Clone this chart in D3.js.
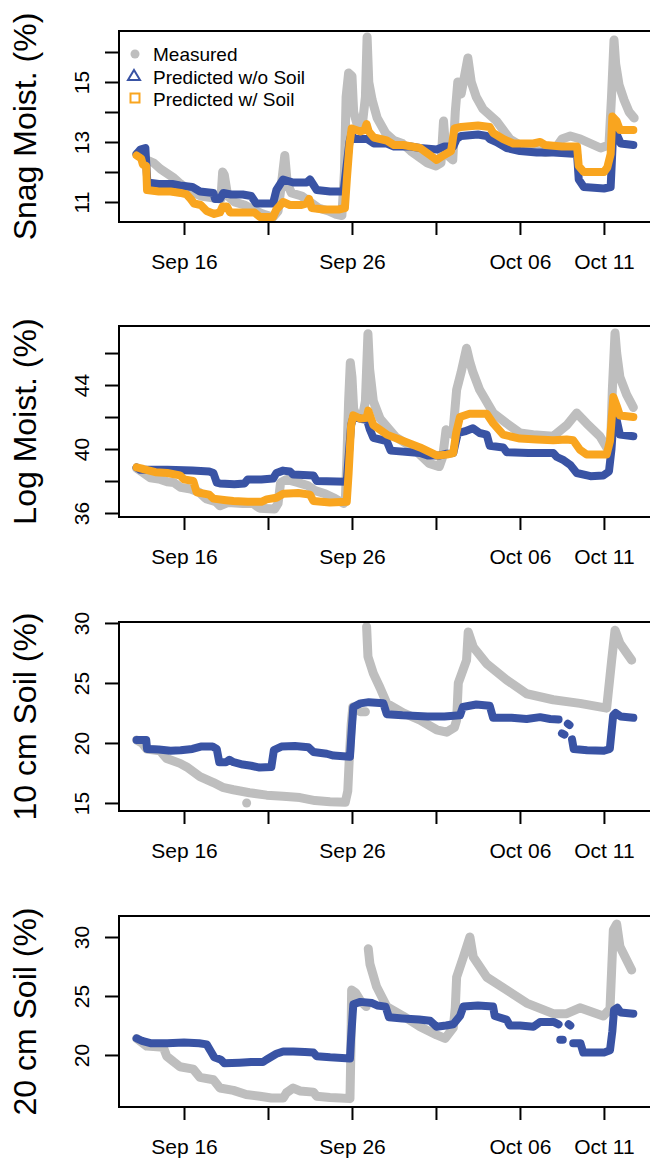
<!DOCTYPE html>
<html>
<head>
<meta charset="utf-8">
<script src="https://cdn.jsdelivr.net/npm/d3@7"></script>
<style>
    body { margin: 0; background: #fff; }
    svg { display: block; font-family: "Liberation Sans", Arial, Helvetica, sans-serif; }
</style>
</head>
<body>
<div id="chart"></div>
<script>
// x values are day numbers counted from Sep 1 (so Oct 1 = 31, Oct 11 = 41)
const xTickDays = [16, 21, 26, 31, 36, 41];
const xTickLabels = ["Sep 16", "", "Sep 26", "", "Oct 06", "Oct 11"];
const legendLabels = ["Measured", "Predicted w/o Soil", "Predicted w/ Soil"];

// ---- Snag moisture
const snagMeas = [[13.18,12.6],[13.5,12.55],[13.8,12.4],[14.2,12.3],[14.6,12.1],[15.0,11.95],[15.4,11.8],[15.8,11.6],[16.2,11.45],[16.6,11.3],[17.0,11.2],[17.6,11.15],[18.2,11.1],[18.3,12.0],[18.4,11.9],[18.6,11.2],[19.0,11.0],[19.6,10.9],[20.1,10.75],[20.7,10.6],[21.3,10.5],[21.6,10.7],[21.8,11.6],[22.0,12.55],[22.15,11.6],[22.4,11.3],[23.0,11.2],[23.5,11.0],[24.0,10.8],[24.6,10.7],[25.0,10.6],[25.4,10.55],[25.55,12.0],[25.65,14.5],[25.8,15.3],[26.0,15.2],[26.1,14.0],[26.3,13.6],[26.6,13.5],[26.8,14.5],[26.9,16.5],[27.0,15.0],[27.2,14.4],[27.5,13.8],[28.0,13.3],[28.5,13.05],[29.0,12.95],[29.5,12.7],[30.0,12.5],[30.5,12.3],[31.0,12.2],[31.3,12.3],[31.45,13.7],[31.6,12.6],[32.0,12.4],[32.15,14.0],[32.3,15.0],[32.5,14.6],[32.7,15.2],[32.9,15.8],[33.1,15.0],[33.4,14.5],[33.8,14.1],[34.2,13.9],[34.6,13.7],[35.0,13.4],[35.4,13.1],[36.0,12.9],[36.8,12.75],[37.5,12.65],[38.0,12.7],[38.5,13.1],[39.0,13.2],[39.6,13.1],[40.2,12.95],[40.8,12.8],[41.3,12.9],[41.45,14.5],[41.6,16.4],[41.7,15.6],[41.9,14.9],[42.2,14.4],[42.5,14.0],[42.8,13.8]];
const snagNoSoil = [[13.18,12.6],[13.4,12.75],[13.7,12.8],[13.78,12.0],[13.82,11.65],[14.5,11.6],[15.3,11.6],[15.76,11.55],[16.5,11.5],[16.95,11.35],[17.75,11.3],[17.85,11.1],[18.14,11.1],[18.34,11.3],[18.8,11.25],[19.5,11.25],[20.0,11.2],[20.3,10.95],[21.3,10.95],[21.5,11.4],[21.9,11.75],[22.5,11.65],[23.3,11.65],[23.5,11.75],[23.9,11.4],[24.7,11.35],[25.5,11.35],[25.7,12.3],[25.85,13.0],[25.98,13.3],[26.1,13.1],[26.9,13.1],[27.3,12.95],[28.07,12.95],[28.5,12.85],[29.5,12.85],[30.05,12.8],[31.04,12.75],[31.5,12.85],[32.03,12.85],[32.23,13.1],[32.5,13.2],[33.5,13.25],[34.02,13.2],[34.2,13.1],[34.6,13.0],[35.21,12.8],[36.0,12.7],[37.0,12.65],[38.0,12.65],[39.4,12.6],[39.5,11.75],[39.8,11.5],[41.0,11.45],[41.4,11.5],[41.55,13.3],[41.8,13.2],[42.0,12.95],[42.75,12.9]];
const snagSoil = [[13.18,12.55],[13.45,12.45],[13.55,12.25],[13.75,12.2],[13.8,11.4],[14.5,11.35],[15.2,11.35],[15.8,11.3],[16.16,11.25],[16.4,11.1],[16.6,10.95],[17.0,10.9],[17.35,10.7],[17.8,10.6],[18.14,10.65],[18.3,10.85],[18.55,10.85],[18.74,10.65],[19.5,10.65],[20.2,10.65],[20.52,10.5],[21.3,10.5],[21.5,10.75],[21.9,11.0],[22.3,10.9],[23.0,10.9],[23.3,10.95],[23.45,11.1],[23.6,10.8],[24.3,10.75],[25.2,10.75],[25.58,10.8],[25.7,11.8],[25.85,12.9],[25.98,13.45],[26.5,13.35],[26.75,13.4],[26.87,13.6],[27.0,13.35],[27.3,13.15],[28.07,13.05],[28.5,12.9],[29.05,12.9],[30.05,12.8],[30.8,12.5],[31.04,12.4],[31.44,12.55],[31.9,12.7],[32.1,13.45],[32.5,13.5],[33.5,13.55],[34.2,13.5],[34.41,13.3],[35.0,13.1],[35.6,12.95],[36.8,12.95],[37.2,13.0],[37.5,12.9],[38.5,12.85],[39.4,12.85],[39.5,12.2],[39.8,12.0],[41.0,12.0],[41.2,12.15],[41.4,12.6],[41.5,13.85],[41.75,13.7],[41.95,13.4],[42.75,13.4]];

// ---- Log moisture
const logMeas = [[13.18,38.8],[13.6,38.5],[14.0,38.2],[14.6,38.1],[15.0,37.95],[15.4,37.9],[15.8,37.6],[16.4,37.5],[16.9,37.3],[17.3,36.9],[17.9,36.7],[18.14,36.45],[18.6,36.65],[19.5,36.6],[20.1,36.6],[20.5,36.3],[21.4,36.25],[21.6,36.6],[21.75,37.9],[22.1,38.1],[22.8,37.9],[23.4,37.7],[23.8,37.4],[24.4,37.2],[25.0,36.9],[25.5,36.6],[25.6,36.7],[25.7,39.5],[25.8,43.0],[25.9,45.4],[26.0,44.5],[26.1,42.5],[26.3,42.0],[26.6,41.9],[26.8,43.0],[26.95,47.2],[27.05,45.0],[27.27,43.0],[27.67,41.9],[28.6,40.75],[29.6,40.1],[30.6,39.1],[31.2,38.9],[31.4,39.5],[31.6,41.2],[32.0,40.9],[32.23,43.7],[32.5,44.8],[32.82,46.3],[33.0,45.5],[33.2,44.8],[33.6,43.7],[34.41,42.25],[35.21,41.6],[36.0,41.0],[36.79,40.9],[37.98,40.8],[38.8,41.5],[39.38,42.25],[39.97,41.6],[40.76,40.8],[41.16,40.1],[41.4,40.3],[41.5,43.7],[41.66,47.25],[41.76,46.0],[41.95,44.5],[42.35,43.4],[42.75,42.6]];
const logNoSoil = [[13.18,38.85],[13.4,38.7],[15.0,38.7],[16.5,38.65],[17.5,38.6],[17.75,38.5],[17.95,37.9],[18.14,37.85],[19.0,37.8],[19.6,37.85],[19.8,38.1],[20.6,38.1],[21.3,38.15],[21.5,38.5],[21.9,38.65],[22.3,38.6],[22.5,38.4],[23.7,38.35],[23.9,38.0],[25.69,37.95],[25.8,39.5],[25.95,41.5],[26.08,42.0],[26.9,41.8],[27.07,41.2],[27.27,40.7],[28.07,40.5],[28.3,39.9],[30.05,39.75],[30.5,39.6],[31.24,39.6],[31.6,39.7],[32.03,39.75],[32.3,41.0],[32.7,41.1],[33.2,41.3],[33.6,41.0],[34.02,40.9],[34.2,40.2],[35.0,40.1],[35.21,39.8],[36.5,39.75],[37.98,39.75],[38.2,39.5],[38.6,39.3],[39.0,39.0],[39.38,38.5],[40.2,38.3],[40.96,38.35],[41.3,38.6],[41.45,40.0],[41.56,41.7],[41.76,41.8],[41.95,40.9],[42.75,40.8]];
const logSoil = [[13.18,38.85],[13.58,38.75],[14.3,38.55],[15.0,38.5],[15.76,38.35],[16.0,38.1],[16.55,38.0],[16.75,37.3],[17.5,37.15],[17.75,36.9],[18.5,36.8],[18.94,36.75],[19.8,36.7],[20.6,36.7],[20.92,36.85],[21.5,36.95],[21.91,37.2],[22.8,37.25],[23.5,37.15],[23.7,36.75],[24.69,36.65],[25.69,36.7],[25.8,38.5],[25.95,41.5],[26.08,42.1],[26.5,41.9],[26.87,41.95],[26.97,42.4],[27.27,41.5],[28.07,40.9],[29.05,40.5],[30.05,40.1],[31.04,39.6],[31.64,39.65],[32.03,39.75],[32.2,41.0],[32.43,42.0],[33.0,42.2],[34.02,42.2],[34.41,41.6],[35.0,40.9],[36.0,40.65],[37.0,40.6],[37.98,40.55],[38.78,40.6],[39.17,40.55],[39.57,39.95],[39.97,39.65],[41.16,39.65],[41.36,40.5],[41.56,43.25],[41.76,42.7],[41.95,42.1],[42.75,42.0]];

// ---- 10 cm soil (null = gap in the record)
const soil10Meas = [[13.18,20.25],[13.5,20.0],[13.78,19.5],[14.57,19.35],[14.97,18.7],[15.76,18.3],[16.16,18.0],[16.95,17.2],[17.75,16.7],[18.3,16.3],[18.94,16.1],[19.9,15.85],[20.92,15.65],[21.9,15.55],[22.9,15.45],[23.8,15.2],[24.69,15.1],[25.6,15.05],[25.75,16.0],[25.85,19.0],[25.95,21.5],[26.05,23.0],[26.5,22.6],[26.8,22.6],[26.84,null],[26.87,29.7],[26.95,27.2],[27.27,25.8],[27.67,24.6],[28.07,23.3],[29.05,22.5],[30.05,21.9],[31.04,21.1],[31.64,20.9],[32.1,21.3],[32.23,21.9],[32.33,25.0],[32.82,26.9],[32.92,29.25],[33.22,28.0],[34.02,26.6],[35.21,25.25],[36.4,24.1],[37.98,23.6],[39.57,23.3],[41.16,22.9],[41.46,26.9],[41.66,29.4],[41.95,28.3],[42.65,26.9]];
const soil10MeasStray = [[19.73,15.0]];
const soil10NoSoil = [[13.18,20.25],[13.75,20.25],[13.8,19.5],[14.5,19.45],[15.2,19.35],[15.8,19.4],[16.5,19.5],[17.0,19.7],[17.7,19.7],[17.95,19.5],[18.1,18.4],[18.5,18.4],[18.7,18.6],[18.95,18.4],[19.5,18.2],[20.0,18.1],[20.5,17.95],[21.2,18.0],[21.35,19.4],[21.8,19.7],[22.6,19.75],[23.4,19.65],[23.7,19.25],[24.5,19.1],[24.9,18.95],[25.88,18.85],[25.98,21.0],[26.08,23.0],[26.5,23.3],[27.0,23.4],[27.87,23.3],[28.07,22.4],[29.0,22.3],[30.5,22.2],[31.5,22.2],[32.43,22.3],[32.6,23.0],[33.4,23.2],[34.2,23.1],[34.4,22.1],[35.5,22.1],[36.4,22.0],[37.2,22.15],[37.8,22.0],[38.3,21.95],[38.4,null],[38.5,20.8],[38.65,20.7],[38.7,null],[38.85,21.6],[38.95,21.5],[39.0,null],[39.1,20.3],[39.2,19.5],[40.0,19.4],[41.0,19.35],[41.35,19.5],[41.45,20.9],[41.55,22.3],[41.7,22.5],[42.0,22.2],[42.75,22.1]];

// ---- 20 cm soil
const soil20Meas = [[13.18,21.4],[13.78,20.75],[14.77,20.65],[14.97,19.9],[15.4,19.4],[15.76,19.0],[16.55,18.8],[16.95,18.1],[17.75,17.9],[18.14,17.2],[18.94,17.0],[19.7,16.65],[20.52,16.5],[21.2,16.35],[21.91,16.35],[22.1,16.8],[22.5,17.2],[22.9,16.95],[23.7,16.85],[23.9,16.5],[24.69,16.4],[25.3,16.35],[25.88,16.3],[25.93,20.0],[25.98,25.5],[26.2,25.3],[26.5,24.6],[26.85,24.1],[26.9,null],[26.97,29.0],[27.07,27.7],[27.46,25.8],[28.07,24.1],[29.05,23.3],[30.05,22.4],[31.04,21.7],[31.54,21.4],[32.03,22.3],[32.15,24.0],[32.23,26.6],[32.63,28.3],[33.02,30.0],[33.22,28.3],[34.02,26.6],[35.21,25.5],[36.4,24.4],[37.98,23.5],[38.78,23.5],[39.57,24.0],[40.96,23.3],[41.36,23.9],[41.56,30.6],[41.76,31.1],[41.95,29.2],[42.65,27.2]];
const soil20NoSoil = [[13.18,21.4],[13.5,21.2],[14.0,21.0],[15.0,21.0],[16.0,21.05],[16.9,21.0],[17.35,20.9],[17.6,20.3],[17.8,19.8],[18.2,19.6],[18.4,19.3],[19.3,19.35],[20.0,19.4],[20.7,19.4],[20.9,19.6],[21.5,20.1],[21.9,20.3],[22.5,20.3],[23.2,20.25],[23.7,20.2],[23.9,19.9],[24.7,19.8],[25.88,19.7],[25.95,21.5],[26.08,24.3],[26.5,24.5],[27.2,24.4],[27.5,24.2],[28.0,24.1],[28.2,23.2],[29.0,23.1],[30.0,23.0],[30.65,22.9],[31.04,22.4],[31.6,22.5],[32.03,22.6],[32.43,23.3],[32.63,24.1],[33.5,24.2],[34.4,24.1],[34.5,23.3],[35.2,23.0],[35.4,22.5],[36.0,22.5],[36.8,22.4],[37.2,22.8],[38.0,22.8],[38.3,22.6],[38.35,null],[38.4,21.3],[38.55,21.3],[38.6,null],[38.9,22.6],[39.0,22.5],[39.05,null],[39.17,21.0],[39.6,21.0],[39.77,20.2],[41.0,20.2],[41.36,20.4],[41.5,22.0],[41.6,23.8],[41.8,24.0],[42.0,23.6],[42.75,23.5]];

const colMeas = "#bebebe";
const colNoSoil = "#3953a4";
const colSoil = "#f9a51f";

const plotLeft = 119, plotRight = 655;
const toDate = d => new Date(Date.UTC(2017, 8, 1) + (d - 1) * 864e5);

class MoistPanel {
    constructor(_svg, _config) {
        this.svg = _svg;
        this.config = _config;
        this.initVis();
    }

    initVis() {
        let vis = this;
        let c = vis.config;

        vis.x = d3.scaleUtc()
            .domain([toDate(12.13), toDate(44.04)])
            .range([plotLeft, plotRight]);
        vis.y = d3.scaleLinear()
            .domain(c.yDomain)
            .range([c.bottom, c.top]);

        vis.g = vis.svg.append("g");
        vis.renderVis();
    }

    renderVis() {
        let vis = this;
        let c = vis.config;

        let line = d3.line()
            .defined(d => d[1] !== null)
            .x(d => vis.x(toDate(d[0])))
            .y(d => vis.y(d[1]));

        c.series.forEach(s => {
            vis.g.append("path")
                .datum(s.data)
                .attr("fill", "none")
                .attr("stroke", s.color)
                .attr("stroke-width", s.width)
                .attr("stroke-linejoin", "round")
                .attr("stroke-linecap", "round")
                .attr("d", line);
        });

        (c.stray || []).forEach(s => {
            vis.g.selectAll(null)
                .data(s.data)
                .join("circle")
                .attr("cx", d => vis.x(toDate(d[0])))
                .attr("cy", d => vis.y(d[1]))
                .attr("r", 4.5)
                .attr("fill", s.color);
        });

        // frame (right side falls off the page, like the original)
        vis.g.append("rect")
            .attr("x", plotLeft)
            .attr("y", c.top)
            .attr("width", plotRight - plotLeft)
            .attr("height", c.bottom - c.top)
            .attr("fill", "none")
            .attr("stroke", "#000")
            .attr("stroke-width", 2);

        let xAxis = vis.g.append("g")
            .attr("transform", `translate(0,${c.bottom})`)
            .call(d3.axisBottom(vis.x)
                .tickValues(xTickDays.map(toDate))
                .tickSize(13)
                .tickFormat((d, i) => xTickLabels[i]));
        xAxis.select(".domain").remove();
        xAxis.attr("font-family", null).attr("font-size", 21);
        xAxis.selectAll("line").attr("stroke-width", 2);
        xAxis.selectAll("text").attr("y", 47).attr("dy", null).attr("fill", "#000");

        let yAxis = vis.g.append("g")
            .attr("transform", `translate(${plotLeft},0)`)
            .call(d3.axisLeft(vis.y)
                .tickValues(c.yTicks)
                .tickSize(14)
                .tickFormat((d, i) => c.yTickLabels[i]));
        yAxis.select(".domain").remove();
        yAxis.attr("font-family", null).attr("font-size", 21);
        yAxis.selectAll("line").attr("stroke-width", 2);
        yAxis.selectAll("text")
            .attr("transform", "rotate(-90)")
            .attr("text-anchor", "middle")
            .attr("x", 0)
            .attr("y", -30)
            .attr("dy", null)
            .attr("fill", "#000");

        vis.g.append("text")
            .attr("transform", `translate(36,${(c.top + c.bottom) / 2}) rotate(-90)`)
            .attr("text-anchor", "middle")
            .attr("font-size", 32)
            .text(c.title);

        if (c.legend) vis.drawLegend();
    }

    drawLegend() {
        let vis = this;
        let lg = vis.g.append("g");
        let rowY = [54, 76.5, 99];

        lg.append("circle")
            .attr("cx", 135).attr("cy", rowY[0]).attr("r", 4.5)
            .attr("fill", colMeas);
        lg.append("path")
            .attr("d", "M0,-5.5L6,4.5L-6,4.5Z")
            .attr("transform", `translate(134,${rowY[1] - 1})`)
            .attr("fill", "none").attr("stroke", colNoSoil).attr("stroke-width", 2);
        lg.append("rect")
            .attr("x", 130.5).attr("y", rowY[2] - 5.5).attr("width", 9).attr("height", 9)
            .attr("fill", "none").attr("stroke", colSoil).attr("stroke-width", 2);

        lg.selectAll("text")
            .data(legendLabels)
            .join("text")
            .attr("x", 153)
            .attr("y", (d, i) => rowY[i] + 7)
            .attr("font-size", 19)
            .text(d => d);
    }
}

const svg = d3.select("#chart").append("svg")
    .attr("width", 650)
    .attr("height", 1158);

const panels = [
    {
        title: "Snag Moist. (%)", top: 31, bottom: 222, yDomain: [10.333, 16.7],
        yTicks: [11, 12, 13, 14, 15, 16], yTickLabels: ["11", "", "13", "", "15", ""],
        legend: true,
        series: [
            { data: snagMeas, color: colMeas, width: 9 },
            { data: snagNoSoil, color: colNoSoil, width: 8 },
            { data: snagSoil, color: colSoil, width: 8 }
        ]
    },
    {
        title: "Log Moist. (%)", top: 326, bottom: 517, yDomain: [35.75, 47.69],
        yTicks: [36, 38, 40, 42, 44, 46], yTickLabels: ["36", "", "40", "", "44", ""],
        series: [
            { data: logMeas, color: colMeas, width: 9 },
            { data: logNoSoil, color: colNoSoil, width: 8 },
            { data: logSoil, color: colSoil, width: 8 }
        ]
    },
    {
        title: "10 cm Soil (%)", top: 622, bottom: 811, yDomain: [14.33, 30.08],
        yTicks: [15, 20, 25, 30], yTickLabels: ["15", "20", "25", "30"],
        series: [
            { data: soil10Meas, color: colMeas, width: 9 },
            { data: soil10NoSoil, color: colNoSoil, width: 8 }
        ],
        stray: [{ data: soil10MeasStray, color: colMeas }]
    },
    {
        title: "20 cm Soil (%)", top: 916, bottom: 1107, yDomain: [15.59, 31.78],
        yTicks: [20, 25, 30], yTickLabels: ["20", "25", "30"],
        series: [
            { data: soil20Meas, color: colMeas, width: 9 },
            { data: soil20NoSoil, color: colNoSoil, width: 8 }
        ]
    }
];

panels.forEach(p => new MoistPanel(svg, p));
</script>
</body>
</html>
